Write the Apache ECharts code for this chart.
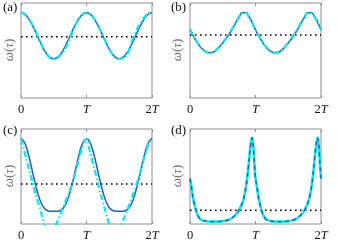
<!DOCTYPE html>
<html><head><meta charset="utf-8">
<script src="https://cdn.jsdelivr.net/npm/echarts@6/dist/echarts.min.js"></script>
<style>html,body{margin:0;padding:0;background:#fff}#c{width:337px;height:245px}</style>
</head><body><div id="c"></div>
<script>
// x positions in units of the period T
const xs = [0,0.05,0.1,0.15,0.2,0.25,0.3,0.35,0.4,0.45,0.5,0.55,0.6,0.65,0.7,0.75,0.8,0.85,0.9,0.95,1,
            1.05,1.1,1.15,1.2,1.25,1.3,1.35,1.4,1.45,1.5,1.55,1.6,1.65,1.7,1.75,1.8,1.85,1.9,1.95,2];
const tickLabels = ['0','T','2T'];
const panelNames = ['(a)','(b)','(c)','(d)'];
const yLabel = 'ω(τ)';

// panel (a)
const aBlue = [85.2,84.1,80.8,75.7,69.3,62.2,55.1,48.7,43.6,40.3,39.2,40.3,43.6,48.7,55.1,62.2,69.3,75.7,80.8,84.1,85.2,
               84.1,80.8,75.7,69.3,62.2,55.1,48.7,43.6,40.3,39.2,40.3,43.6,48.7,55.1,62.2,69.3,75.7,80.8,84.1,85.2];
const aCyan = [85.5,84.3,81,76,69.8,62.6,55.3,48.8,43.4,40,39,39.8,42.8,46.5,52.5,60,68.5,75.5,80.8,84.2,85.3,
               84.2,80.9,75.9,69.6,62.4,55.2,48.6,43.3,40,38.9,39.8,42,47.5,57.5,65.5,72,77.5,82,84.6,85.5];
// panel (b)
const bBlue = [68,62,56.5,51.8,48.3,46.2,45.3,45.8,47.8,51,55,59.3,64,69.5,75.5,81,85.2,85.3,81.5,75.5,68,
               62,56.5,51.8,48.3,46.2,45.3,45.8,47.8,51,55,59.3,64,69.5,75.5,81,85.2,85.3,81.5,75.5,68];
const bCyan = [68.8,62.5,56.8,52,48.3,46,45.2,45.8,48,51.3,55.4,59.8,64.5,70,76,81.3,85.3,85.2,81.3,75.3,68.2,
               62.3,56.7,51.9,48.3,46.1,45.2,45.8,48,51.3,55.4,59.8,64.5,70,76,81.3,85.3,85.2,81.3,75.5,68.6];
// panel (c)
const cBlue = [85.3,82,72.7,59.5,45.1,32.2,22.3,16.3,13.5,12.8,12.7,12.8,13.5,16.3,22.3,32.2,45.1,59.5,72.7,82,85.3,
               82,72.7,59.5,45.1,32.2,22.3,16.3,13.5,12.8,12.7,12.8,13.5,16.3,22.3,32.2,45.1,59.5,72.7,82,85.3];
const cCyan = [85,73,60.5,48,35.5,24,13,2,-8,-11,-8,1.5,9.5,17.5,26,34.5,44,56,68,79,85,
               73,60.5,47.5,34.5,22,10.5,-1,-10,-12,-7,2,10,18.5,27.5,37,47,59,70,80,84];
// panel (d)
const dXs = [0,0.02,0.04,0.06,0.08,0.1,0.12,0.14,0.17,0.2,0.25,0.3,0.35,0.4,0.45,0.5,0.55,0.6,0.65,0.7,0.75,0.8,0.82,0.84,0.86,0.88,0.9,0.92,0.94,0.95,0.96,0.97,0.98,0.99,1,
             1.02,1.04,1.06,1.08,1.1,1.12,1.14,1.17,1.2,1.25,1.3,1.35,1.4,1.45,1.5,1.55,1.6,1.65,1.7,1.75,1.8,1.82,1.84,1.86,1.88,1.9,1.92,1.94,1.95,1.96,1.97,1.98,1.99,2];
const dBlue = [45.3,38,28.5,21.7,16.5,12,8.7,6.2,4.3,3.4,2.8,2.5,2.4,2.4,2.5,2.9,3.4,4.5,6.5,9.5,14,21,25.5,31.5,39.4,50,62.8,76,85,86.3,83.1,74.7,64.1,53.6,45.3,
               38,28.5,21.7,16.5,12,8.7,6.2,4.3,3.4,2.8,2.5,2.4,2.4,2.5,2.9,3.4,4.5,6.5,9.5,14,21,25.5,31.5,39.4,50,62.8,76,85,86.3,83.1,74.7,64.1,53.6,45.3];
const dCyan = dBlue;
// dotted reference levels per panel
const levels = [61.3, 63, 40, 13.7];

const BLUE = '#1a62b2', CYAN = '#19e2f0', BOX = '#8f8f8f';
const grids = [
  {left:21, top:3, width:131, height:95},
  {left:190, top:3, width:131, height:95},
  {left:21, top:129, width:131, height:95},
  {left:190, top:129, width:131, height:95}
];
const pair = (x, y) => x.map((v,i)=>[v, y[i]]);
const series = [], xAxis = [], yAxis = [];
const panels = [
  {x: xs, b: aBlue, c: aCyan, dashedBlue: false},
  {x: xs, b: bBlue, c: bCyan, dashedBlue: false},
  {x: xs, b: cBlue, c: cCyan, dashedBlue: false},
  {x: dXs, b: dBlue, c: dCyan, dashedBlue: true}
];
const fmt = v => v === 0 ? tickLabels[0] : (v === 1 ? '{i|' + tickLabels[1] + '}' : '2{i|T}');
panels.forEach((p, g) => {
  xAxis.push({gridIndex:g, type:'value', min:0, max:2, interval:1, position:'bottom',
    axisLine:{show:false}, splitLine:{show:false},
    axisTick:{inside:true, length:3, lineStyle:{color:BOX}},
    axisLabel:{margin:5, formatter:fmt, color:'#111', fontFamily:'Liberation Serif', fontSize:12.5,
      rich:{i:{fontStyle:'italic', fontFamily:'Liberation Serif', fontSize:12.5, color:'#111'}}}});
  xAxis.push({gridIndex:g, type:'value', min:0, max:2, interval:1, position:'top',
    axisLine:{show:false}, splitLine:{show:false}, axisLabel:{show:false},
    axisTick:{inside:true, length:3, lineStyle:{color:BOX}}});
  yAxis.push({gridIndex:g, type:'value', min:0, max:95, axisLine:{show:false}, axisTick:{show:false},
    axisLabel:{show:false}, splitLine:{show:false}});
  const xi = g*2;
  series.push({type:'line', xAxisIndex:xi, yAxisIndex:g, data:[[0,levels[g]],[2,levels[g]]],
    symbol:'none', lineStyle:{color:'#000', width:1.6, type:[1.6,3.4]}, z:2});
  if (!p.dashedBlue) {
    series.push({type:'line', xAxisIndex:xi, yAxisIndex:g, data:pair(p.x,p.b), smooth:true, clip:true,
      symbol:'none', lineStyle:{color:BLUE, width:1.5}, z:3});
    series.push({type:'line', xAxisIndex:xi, yAxisIndex:g, data:pair(p.x,p.c), smooth:true, clip:true,
      symbol:'none', lineStyle:{color:CYAN, width:2.4, type:[6,2.5,1.5,2.5]}, z:4});
  } else {
    series.push({type:'line', xAxisIndex:xi, yAxisIndex:g, data:pair(p.x,p.c), smooth:0.3, clip:true,
      symbol:'none', lineStyle:{color:CYAN, width:2.6}, z:3});
    series.push({type:'line', xAxisIndex:xi, yAxisIndex:g, data:pair(p.x,p.b), smooth:0.3, clip:true,
      symbol:'none', lineStyle:{color:BLUE, width:1.4, type:[4,3.5]}, z:4});
  }
});
const labelPos = [[3,8],[171,8],[3,131],[171,131]];
const yLabPos = [[10,50],[178,50],[10,176],[178,176]];
const graphic = [];
panelNames.forEach((n,i)=>{
  graphic.push({type:'text', left:labelPos[i][0], top:labelPos[i][1]-7,
    style:{text:n, font:'13px "Liberation Serif"', fill:'#111'}});
  graphic.push({type:'text', x:yLabPos[i][0], y:yLabPos[i][1], rotation:Math.PI/2,
    style:{text:'{i|ω}({i|τ})', font:'13px "Liberation Serif"', fill:'#666', align:'center', verticalAlign:'middle',
      rich:{i:{font:'italic 13px "Liberation Serif"', fill:'#666'}}}});
});
const chart = echarts.init(document.getElementById('c'), null, {renderer:'canvas'});
chart.setOption({
  animation:false,
  grid: grids.map(g => Object.assign({show:true, borderColor:BOX, borderWidth:1, backgroundColor:'transparent'}, g)),
  xAxis, yAxis, series, graphic
});
</script></body></html>
